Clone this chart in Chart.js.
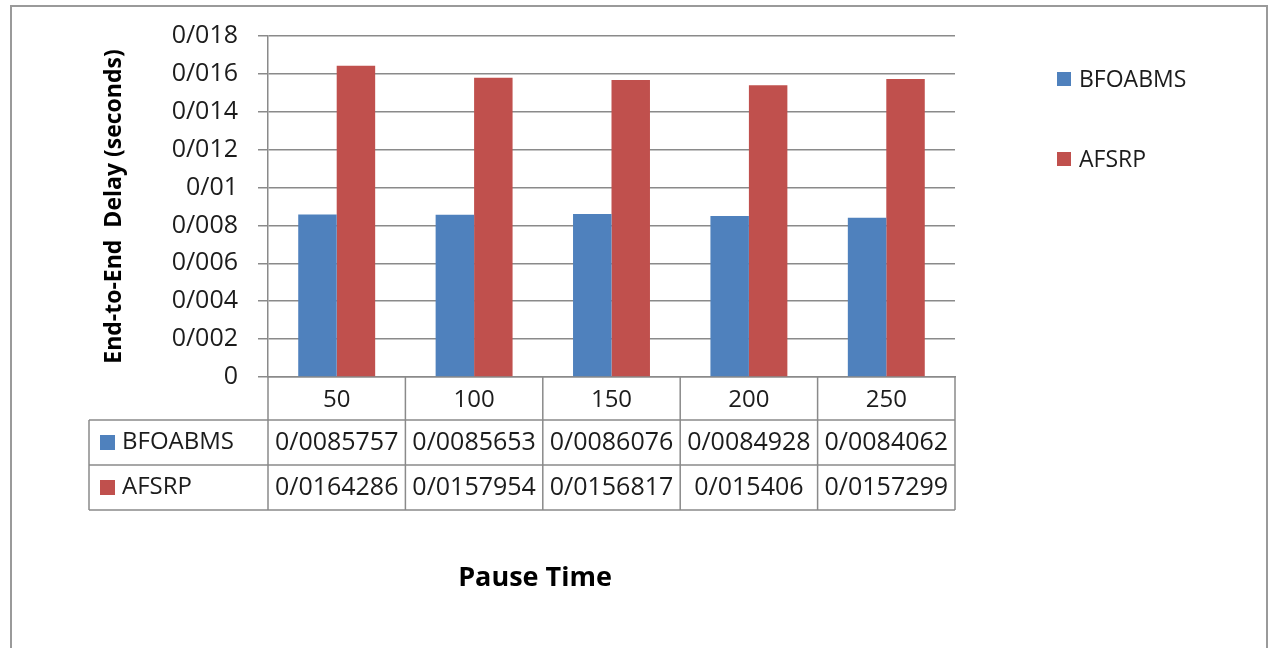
<!DOCTYPE html>
<html>
<head>
<meta charset="utf-8">
<title>End-to-End Delay vs Pause Time</title>
<script src="https://cdn.jsdelivr.net/npm/chart.js@4/dist/chart.umd.min.js"></script>
<style>
  html, body { margin: 0; padding: 0; background: #ffffff; }
  #wrap { width: 1274px; height: 648px; position: relative; }
</style>
</head>
<body>
<div id="wrap"><canvas id="chart" width="1274" height="648"></canvas></div>
<script>
// Pause time categories and the measured end-to-end delay of each protocol
const pauseTimes = ['50', '100', '150', '200', '250'];
const bfoabms = [0.0085757, 0.0085653, 0.0086076, 0.0084928, 0.0084062];
const afsrp = [0.0164286, 0.0157954, 0.0156817, 0.015406, 0.0157299];
const seriesNames = ['BFOABMS', 'AFSRP'];

const yMin = 0;
const yMax = 0.018;
const yStep = 0.002;

const BLUE = '#4f81bd';
const RED = '#c0504d';
const GRID = '#8a8a8a';
const TEXT = '#1c1c1c';
const FONT = "'Open Sans', 'Liberation Sans', sans-serif";

// decimals are written with a slash separator
const slashNum = v => String(v).replace('.', '/');

// Draws the data table under the axis, the side legend, the x title and the frame
const tablePlugin = {
  id: 'dataTable',
  beforeDraw(chart) {
    const ctx = chart.ctx;
    ctx.save();
    ctx.fillStyle = '#ffffff';
    ctx.fillRect(0, 0, chart.width, chart.height);
    ctx.restore();
  },
  afterDraw(chart) {
    const { ctx, chartArea } = chart;
    const x = chart.scales.x;
    const n = pauseTimes.length;
    const step = x.getPixelForValue(1) - x.getPixelForValue(0);
    const edges = [];
    for (let i = 0; i < n; i++) edges.push(x.getPixelForValue(i) - step / 2);
    edges.push(x.getPixelForValue(n - 1) + step / 2);

    const top = chartArea.bottom;
    const headerBottom = top + 43;
    const rowH = 45;
    const labelLeft = 89;
    const rowsBottom = headerBottom + rowH * 2;

    ctx.save();
    ctx.strokeStyle = GRID;
    ctx.lineWidth = 1.5;
    ctx.beginPath();
    // horizontal rules
    [headerBottom, headerBottom + rowH, rowsBottom].forEach(y => {
      ctx.moveTo(labelLeft, y);
      ctx.lineTo(edges[n], y);
    });
    // column rules
    edges.forEach(ex => {
      ctx.moveTo(ex, top);
      ctx.lineTo(ex, rowsBottom);
    });
    ctx.moveTo(labelLeft, headerBottom);
    ctx.lineTo(labelLeft, rowsBottom);
    ctx.stroke();

    // header row: pause times
    ctx.fillStyle = TEXT;
    ctx.textAlign = 'center';
    ctx.textBaseline = 'middle';
    ctx.font = `24px ${FONT}`;
    pauseTimes.forEach((c, i) => {
      ctx.fillText(c, x.getPixelForValue(i), top + 23);
    });

    // series rows
    chart.data.datasets.forEach((ds, r) => {
      const cy = headerBottom + rowH * r + rowH / 2;
      ctx.fillStyle = ds.backgroundColor;
      ctx.fillRect(100, cy - 7.5, 15, 15);
      ctx.fillStyle = TEXT;
      ctx.textAlign = 'left';
      ctx.font = `24px ${FONT}`;
      ctx.fillText(ds.label, 122, cy);
      ctx.textAlign = 'center';
      ctx.font = `25px ${FONT}`;
      ds.data.forEach((v, i) => {
        ctx.fillText(slashNum(v), x.getPixelForValue(i), cy);
      });
    });

    // legend to the right of the plot
    chart.data.datasets.forEach((ds, r) => {
      const cy = 79 + r * 80;
      ctx.fillStyle = ds.backgroundColor;
      ctx.fillRect(1057, cy - 7, 14, 14);
      ctx.fillStyle = TEXT;
      ctx.textAlign = 'left';
      ctx.font = `23px ${FONT}`;
      ctx.fillText(ds.label, 1079, cy + 1);
    });

    // x axis title
    ctx.fillStyle = '#000000';
    ctx.textAlign = 'center';
    ctx.font = `bold 27px ${FONT}`;
    ctx.fillText('Pause Time', 535, 578);

    // outer frame
    ctx.strokeStyle = '#9a9a9a';
    ctx.lineWidth = 2;
    ctx.beginPath();
    ctx.moveTo(11, chart.height + 5);
    ctx.lineTo(11, 6);
    ctx.lineTo(1267, 6);
    ctx.lineTo(1267, chart.height + 5);
    ctx.stroke();
    ctx.restore();
  }
};

new Chart(document.getElementById('chart'), {
  type: 'bar',
  data: {
    labels: pauseTimes,
    datasets: [
      { label: seriesNames[0], data: bfoabms, backgroundColor: BLUE, borderWidth: 0 },
      { label: seriesNames[1], data: afsrp, backgroundColor: RED, borderWidth: 0 }
    ]
  },
  options: {
    responsive: false,
    animation: false,
    devicePixelRatio: 1,
    layout: { padding: { left: 101, right: 319, top: 36, bottom: 0 } },
    datasets: { bar: { categoryPercentage: 0.56, barPercentage: 1.0 } },
    plugins: {
      legend: { display: false },
      tooltip: { enabled: false },
      title: { display: false }
    },
    scales: {
      x: {
        grid: { display: false },
        border: { display: true, color: GRID, width: 1.5 },
        ticks: { display: false },
        afterFit(scale) { scale.height = 271; }
      },
      y: {
        min: yMin,
        max: yMax,
        ticks: {
          stepSize: yStep,
          padding: 20,
          color: TEXT,
          font: { family: FONT, size: 25 },
          callback: v => slashNum(Number(v.toFixed(3)))
        },
        grid: { color: GRID, lineWidth: 1.5, tickLength: 10, tickColor: GRID },
        border: { display: true, color: GRID, width: 1.5 },
        title: {
          display: true,
          text: 'End-to-End  Delay (seconds)',
          color: '#000000',
          font: { family: FONT, size: 23, weight: 'bold' },
          padding: { top: 0, bottom: 0 }
        },
        afterFit(scale) { scale.width = 167; }
      }
    }
  },
  plugins: [tablePlugin]
});
</script>
</body>
</html>
